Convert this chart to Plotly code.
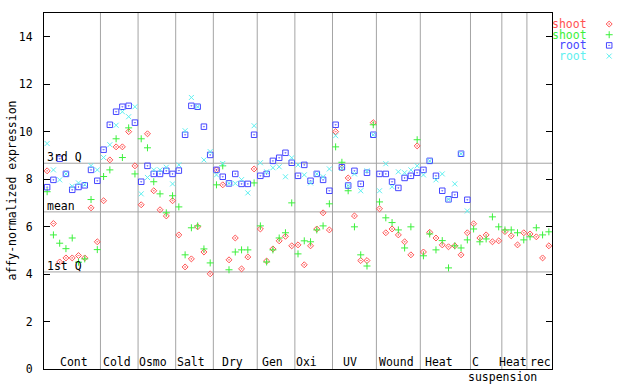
import plotly.graph_objects as go

# ---- data -------------------------------------------------------------
groups = ["Cont", "Cold", "Osmo", "Salt", "Dry", "Gen", "Oxi", "UV",
          "Wound", "Heat", "C", "Heat", "rec"]
group_sizes = [9, 6, 6, 6, 7, 6, 6, 7, 7, 8, 5, 4, 4]
sub_label = "suspension"

shoot_red = [8.35, 6.13, 4.51, 4.68, 4.68, 4.78, 4.68, 6.79, 5.36,
             7.09, 8.81, 9.36, 9.36, 10.00, 8.56,
             6.92, 9.91, 7.51, 6.71, 6.45, 7.09,
             5.65, 4.30, 4.64, 5.99, 4.93, 4.01,
             8.39, 7.76, 4.60, 5.52, 4.22, 4.72, 8.43,
             5.90, 4.55, 5.06, 5.40, 5.59, 5.19,
             5.23, 4.39, 5.19, 5.90, 6.58, 5.86,
             10.00, 8.47, 8.05, 6.45, 4.57, 4.57, 10.38,
             6.75, 5.74, 5.90, 5.65, 5.36, 4.81, 9.40,
             4.93, 5.76, 5.52, 5.23, 5.15, 5.19, 4.81, 5.74,
             6.12, 5.52, 5.65, 5.36, 5.40,
             5.79, 5.61, 5.23, 5.74,
             5.69, 5.57, 4.68, 5.19]

shoot_green = [7.47, 5.65, 5.30, 5.07, 5.52, 4.50, 4.64, 7.14, 5.03,
               8.11, 8.39, 9.70, 8.91, 10.16, 8.22,
               9.70, 9.32, 7.89, 7.38, 6.58, 7.30,
               6.83, 4.81, 5.95, 6.03, 5.06, 4.47,
               7.76, 8.56, 4.18, 4.93, 5.02, 5.02, 7.84,
               6.03, 4.51, 5.02, 5.52, 5.74, 7.00,
               4.85, 5.40, 5.36, 5.86, 6.03, 6.96,
               9.36, 8.71, 7.51, 5.99, 4.81, 4.34, 10.29,
               7.04, 6.37, 6.17, 5.86, 5.10, 5.99, 9.66,
               4.77, 5.69, 5.02, 5.41, 4.26, 5.19, 5.10, 5.44,
               5.90, 5.36, 5.48, 6.41, 5.99,
               5.86, 5.86, 5.74, 5.44,
               5.57, 5.95, 5.65, 5.78]

root_blue = [7.66, 7.97, 8.86, 8.22, 7.55, 7.67, 7.74, 8.39, 7.93,
             9.24, 10.29, 10.84, 11.05, 11.09, 10.38,
             7.89, 8.56, 8.22, 8.22, 8.35, 8.22,
             8.36, 9.87, 11.09, 11.05, 10.21, 9.02,
             8.39, 8.10, 7.82, 8.22, 7.80, 7.80, 9.87,
             8.14, 8.22, 8.77, 8.90, 9.11, 8.69,
             8.14, 8.60, 7.93, 8.22, 7.97, 7.51,
             10.29, 8.50, 7.73, 8.35, 7.80, 8.27, 9.87,
             8.22, 8.22, 7.89, 7.63, 8.05, 8.14, 8.27,
             8.39, 8.77, 8.14, 7.51, 7.15, 7.34, 9.07, 7.13] + [None] * 13

root_cyan = [9.50, 8.39, 7.97, 8.22, 7.70, 7.84, 7.77, 8.57, 8.39,
             8.91, 9.45, 10.27, 10.84, 10.63, 11.05,
             7.38, 8.07, 8.39, 8.39, 8.50, 7.80,
             8.60, 10.04, 11.44, 11.05, 8.81, 9.16,
             8.18, 8.66, 7.82, 7.82, 7.98, 7.42, 10.25,
             8.69, 8.31, 8.48, 8.52, 8.10, 8.90,
             8.60, 8.18, 7.84, 8.22, 8.10, 8.43,
             9.83, 8.45, 7.73, 8.22, 7.51, 8.35, 9.87,
             7.51, 8.65, 7.68, 8.31, 8.27, 8.39, 8.56,
             8.18, 8.77, 7.97, 8.22, 7.15, 7.80, 9.07, 6.66] + [None] * 13

quantile_names = ["3rd Q", "mean", "1st Q"]
quantile_values = [8.67, 6.62, 4.09]

y_ticks = [0, 2, 4, 6, 8, 10, 12, 14]

series_names = ["shoot", "shoot", "root", "root"]

# ---- styling / layout helpers ------------------------------------------
series_vals = [shoot_red, shoot_green, root_blue, root_cyan]
colors = ["#ff5252", "#3cf03c", "#4646ff", "#5ff0f0"]
symbols = ["diamond-open-dot", "cross-thin-open", "square-open-dot", "x-thin-open"]
sizes = [4.6, 5, 5.5, 5]
FONT = "DejaVu Sans Mono"
FS = 11.5
GRID = "#a4a4a4"

n = len(shoot_red)
xs = list(range(n))

# label centres (in sample units) as placed in the original
label_x = [4.28, 11.21, 16.95, 22.93, 29.62, 35.99, 41.33, 48.34,
           55.75, 62.53, 68.34, 74.32, 78.70]
sub_label_x = 72.57

W, H = 640, 384
ML, MR, MT, MB = 44, 0, 13, 15
plot_w = 552 - 44
paper_w = W - ML - MR
xdom = plot_w / paper_w

fig = go.Figure()
for vals, c, s, sz in zip(series_vals, colors, symbols, sizes):
    fig.add_trace(go.Scatter(
        x=xs, y=vals, mode="markers",
        marker=dict(symbol=s, size=sz, color=c, line=dict(color=c, width=1)),
        showlegend=False, hoverinfo="skip", cliponaxis=False))

# custom legend: text then marker, outside on the right
leg_y = [0.969, 0.939, 0.909, 0.879]
for i, (name, c, s, sz) in enumerate(zip(series_names, colors, symbols, sizes)):
    fig.add_trace(go.Scatter(
        x=[0.65], y=[leg_y[i]], xaxis="x2", yaxis="y2", mode="markers",
        marker=dict(symbol=s, size=sz, color=c, line=dict(color=c, width=1)),
        showlegend=False, hoverinfo="skip", cliponaxis=False))

shapes = []
# group separators
pos = -0.5
for sz in group_sizes[:-1]:
    pos += sz
    shapes.append(dict(type="line", xref="x", yref="paper", x0=pos, x1=pos,
                       y0=0, y1=1, line=dict(color=GRID, width=1), layer="below"))
# quantile lines
for v in quantile_values:
    shapes.append(dict(type="line", xref="x domain", yref="y", x0=0, x1=1,
                       y0=v, y1=v, line=dict(color=GRID, width=1), layer="below"))

annotations = []
for g, lx in zip(groups, label_x):
    annotations.append(dict(text=g, x=lx, xref="x", y=0, yref="paper",
                            yanchor="bottom", xanchor="center", showarrow=False,
                            yshift=-2, font=dict(family=FONT, size=FS, color="black")))
annotations.append(dict(text=sub_label, x=sub_label_x, xref="x", y=0, yref="paper",
                        yanchor="top", xanchor="center", showarrow=False, yshift=1,
                        font=dict(family=FONT, size=FS, color="black")))
for name, v in zip(quantile_names, quantile_values):
    annotations.append(dict(text=name, x=0.002, xref="paper", y=v, yref="y",
                            yanchor="bottom", xanchor="left", showarrow=False,
                            yshift=-3, font=dict(family=FONT, size=FS, color="black")))
for i, (name, c) in enumerate(zip(series_names, colors)):
    annotations.append(dict(text=name, x=(589 - 44) / paper_w, xref="paper",
                            y=leg_y[i], yref="paper", xanchor="right", yanchor="middle",
                            showarrow=False, font=dict(family=FONT, size=FS, color=c)))
annotations.append(dict(text="affy-normalized expression", textangle=-90,
                        x=(11.5 - 44) / paper_w, xref="paper", y=0.5, yref="paper",
                        xanchor="center", yanchor="middle", showarrow=False,
                        font=dict(family=FONT, size=FS, color="black")))

fig.update_layout(
    width=W, height=H,
    margin=dict(l=ML, r=MR, t=MT, b=MB, pad=0),
    paper_bgcolor="white", plot_bgcolor="white",
    showlegend=False,
    xaxis=dict(domain=[0, xdom], range=[-0.5, n - 0.5], showline=True, mirror=True,
               linecolor="black", linewidth=1, showgrid=False, zeroline=False,
               showticklabels=False, ticks="", automargin=False, fixedrange=True),
    yaxis=dict(range=[0, 15], tickvals=y_ticks, ticks="inside", ticklen=6,
               tickcolor="black", tickwidth=1, showline=True, mirror="ticks",
               linecolor="black", linewidth=1, showgrid=False, zeroline=False,
               ticklabelstandoff=8, automargin=False,
               tickfont=dict(family=FONT, size=FS, color="black")),
    xaxis2=dict(domain=[xdom, 1], range=[0, 1], visible=False, anchor="y2"),
    yaxis2=dict(domain=[0, 1], range=[0, 1], visible=False, anchor="x2"),
    shapes=shapes, annotations=annotations,
)

# remove the browser's default 8px page margin so the figure sits at (0, 0)
fig.write_html("out.html",
               config={"displayModeBar": False},
               post_script="document.body.style.margin='0px';"
                           "document.body.style.overflow='hidden';")
